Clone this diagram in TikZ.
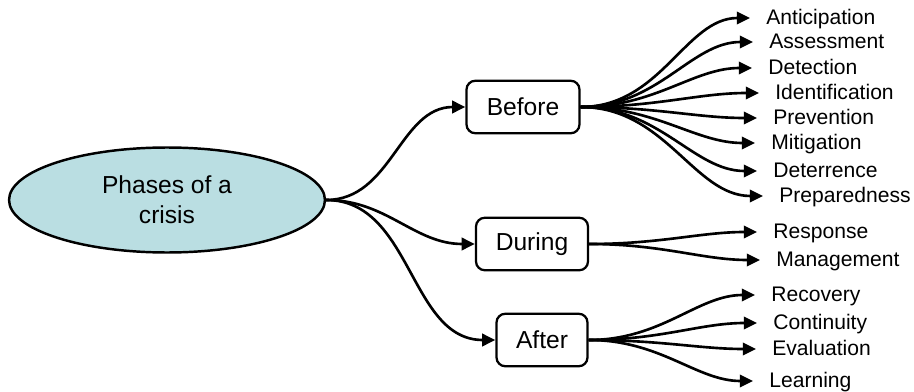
\documentclass[tikz,border=0pt]{standalone}
\usepackage{fontspec}
\setmainfont{Liberation Sans}
\usetikzlibrary{shapes.geometric,arrows.meta}
\definecolor{crisisblue}{RGB}{186,222,226}

\begin{document}
\begin{tikzpicture}[x=0.02cm,y=-0.02cm,>={Triangle[length=7.5pt,width=7pt]},
  phase/.style={draw,line width=1.3pt,rounded corners=5pt,
    minimum height=1.05cm,font=\fontsize{14}{17}\selectfont},
  leaf/.style={anchor=west,inner sep=0pt,text height=1.6ex,
    text depth=0.3ex,font=\fontsize{12}{14}\selectfont},
  link/.style={->,line width=1.5pt,out=0,in=180}]
\useasboundingbox (0,0) rectangle (914,392);
% root and the three phases
\node[ellipse,draw,line width=1.4pt,fill=crisisblue,minimum width=6.32cm,
  minimum height=2.1cm,inner sep=0pt,align=center,
  font=\fontsize{14}{17}\selectfont] (crisis) at (167,200) {Phases of a\\crisis};
\node[phase,minimum width=2.26cm] (before) at (523,107) {Before};
\node[phase,minimum width=2.24cm] (during) at (532,244) {During};
\node[phase,minimum width=1.82cm] (after) at (542,340) {After};
\foreach \ph in {before,during,after}
  \draw[link] (crisis.east) to (\ph.west);
% activities of each phase
\foreach \src/\nm/\px/\py/\txt in {before/ant/766/18/Anticipation,
  before/ass/769/42/Assessment,before/det/768/68/Detection,
  before/idf/775/93/Identification,before/prv/773/118/Prevention,
  before/mit/771/143/Mitigation,before/dtr/773/171/Deterrence,
  before/prp/779/196/Preparedness,during/rsp/773/232/Response,
  during/mgt/776/260/Management,after/rcv/771/295/Recovery,
  after/cnt/773/323/Continuity,after/evl/772/349/Evaluation,
  after/lrn/769/381/Learning}{
  \node[leaf] (\nm) at (\px,\py) {\txt};
  \draw[link,shorten >=0.32cm] (\src.east) to (\nm.west);
}
\end{tikzpicture}
\end{document}
